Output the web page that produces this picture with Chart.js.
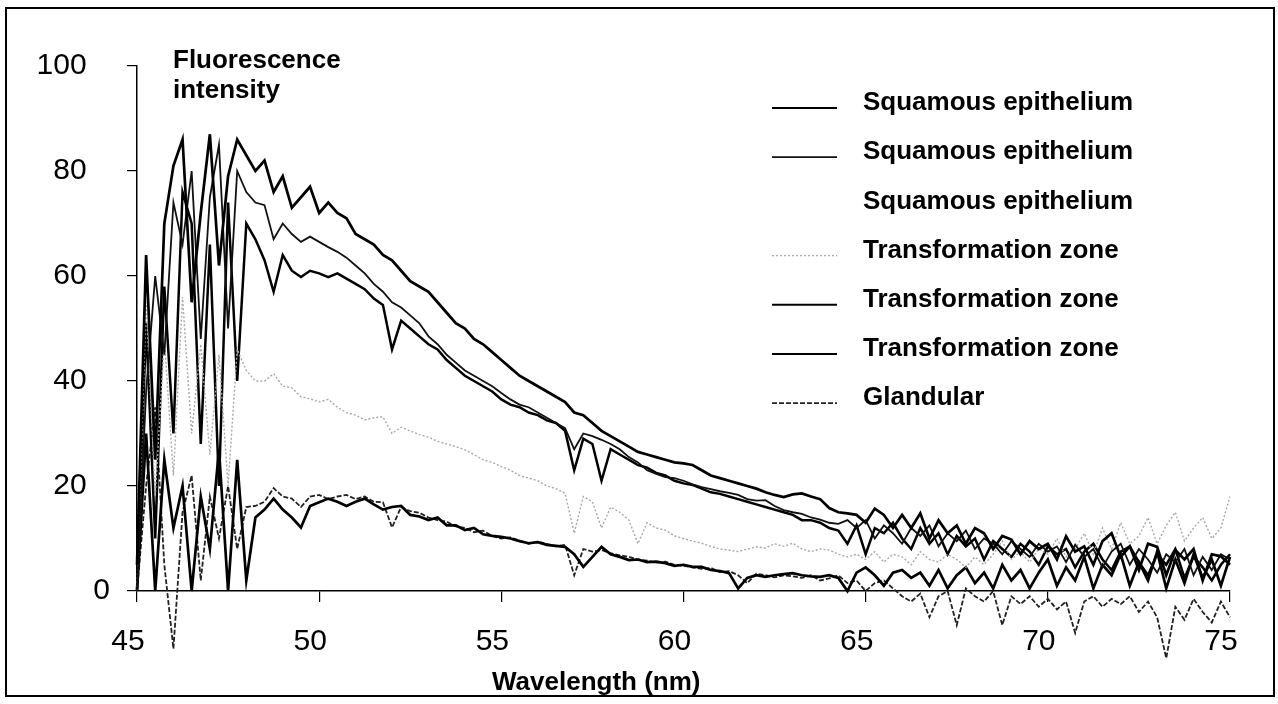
<!DOCTYPE html>
<html>
<head>
<meta charset="utf-8">
<title>Fluorescence intensity</title>
<script src="https://cdn.jsdelivr.net/npm/chart.js@4.4.1/dist/chart.umd.min.js"></script>
<style>
  html, body { margin: 0; padding: 0; background: #fff; }
  #wrap { width: 1278px; height: 704px; }
</style>
</head>
<body>
<div id="wrap"><canvas id="spectrumChart" width="1278" height="704"></canvas></div>
<script>
// wavelength grid (nm), one value every 0.25
const wavelengths = [
  45, 45.25, 45.5, 45.75, 46, 46.25, 46.5, 46.75, 47, 47.25, 47.5, 47.75,
  48, 48.25, 48.5, 48.75, 49, 49.25, 49.5, 49.75, 50, 50.25, 50.5, 50.75,
  51, 51.25, 51.5, 51.75, 52, 52.25, 52.5, 52.75, 53, 53.25, 53.5, 53.75,
  54, 54.25, 54.5, 54.75, 55, 55.25, 55.5, 55.75, 56, 56.25, 56.5, 56.75,
  57, 57.25, 57.5, 57.75, 58, 58.25, 58.5, 58.75, 59, 59.25, 59.5, 59.75,
  60, 60.25, 60.5, 60.75, 61, 61.25, 61.5, 61.75, 62, 62.25, 62.5, 62.75,
  63, 63.25, 63.5, 63.75, 64, 64.25, 64.5, 64.75, 65, 65.25, 65.5, 65.75,
  66, 66.25, 66.5, 66.75, 67, 67.25, 67.5, 67.75, 68, 68.25, 68.5, 68.75,
  69, 69.25, 69.5, 69.75, 70, 70.25, 70.5, 70.75, 71, 71.25, 71.5, 71.75,
  72, 72.25, 72.5, 72.75, 73, 73.25, 73.5, 73.75, 74, 74.25, 74.5, 74.75,
  75
];

// one row per nm (4 readings), last value at 75 nm
const squamous1 = [
  5, 64, 25, 70,   81, 86, 55, 72,   87, 62, 79, 86,   83, 80, 82, 76,
  79, 73, 75, 77,   72, 74, 72, 71,   68, 67, 66, 64,   63, 61, 59, 58,
  57, 55, 53, 51,   50, 48, 47, 45.5,   44, 42.5, 41, 40,   39, 38, 37, 36,
  34, 33.5, 32, 30.5,   29.5, 28.5, 27.5, 26.5,   26, 25.5, 25, 24.5,   24.3, 24, 23, 22,
  21.5, 21, 20.5, 20,   19.5, 18.8, 18.3, 17.9,   18.4, 18.6, 18, 17.5,   15.8, 15, 14.8, 14.5,
  13, 15.7, 14.5, 12,   14.5, 12, 14.8, 10,   13.5, 11, 12.5, 9,   12, 11, 8, 10.5,
  9.8, 7, 9.5, 8,   9, 6, 10.4, 7.5,   8.5, 5, 9.5, 11,   6.5, 8.5, 4, 9,
  8.4, 3, 7.8, 6,   8, 2, 7, 6.6,
  5
];

const squamous2 = [
  0, 38, 60, 45,   74, 66, 80, 48,   75, 85, 50, 80,   76, 74, 73.5, 67,
  70, 68, 66.5, 67.5,   66.5, 65.5, 64.6, 63.5,   62, 60.5, 58.5, 57,   55, 54, 52.5, 51,
  48.5, 47, 45, 43.5,   42, 41, 40, 39,   37.7, 36.5, 35.5, 35,   34, 33, 32, 31,
  27, 30, 29.5, 28.8,   28, 27, 25.5, 24.5,   23, 22.3, 21.7, 21.5,   21, 20.3, 19.8, 19.4,
  19, 18.7, 18.3, 17.5,   17.2, 17.3, 16.2, 15.4,   15, 14.7, 14, 13.6,   13, 12.8, 13.5, 12,
  13.5, 10, 12.5, 11,   9, 12, 10.5, 12.5,   8.5, 11, 9.5, 11.5,   8, 10, 9, 7,
  9.5, 8, 6.5, 9,   7.5, 8.5, 5.5, 8.8,   6.5, 8, 4.5, 7.5,   9, 5, 8, 6,
  3.5, 7, 5.5, 8,   3, 6.5, 4, 7,
  6
];

// third squamous trace is not visible in the figure
const squamous3 = [];

const transformation1 = [
  0, 55, 18, 48,   22, 56, 30, 47,   26, 45, 20, 46,   42, 40, 40, 41.4,
  39, 38.7, 37, 36.6,   36, 36.5, 35, 34,   33.5, 32.6, 33, 33.2,   30, 31.2, 30.5, 29.8,
  29.3, 28.5, 28, 27.5,   26.9, 26, 25, 24.5,   23.7, 23, 22, 21.5,   21, 20, 19.5, 18.6,
  11, 18, 17, 12,   16, 15, 13.5, 9,   13, 12, 11.6, 10.5,   10, 9.5, 9.1, 8.5,
  8, 7.8, 7.5, 8,   8.4, 8.2, 9, 8.5,   9.1, 8, 7.5, 8,   7.8, 7, 6.5, 7,
  6, 7.5, 5.5, 7,   6.5, 5, 7.5, 6,   5.5, 7, 6, 4.5,   6.5, 5, 7, 9.5,
  6, 7.5, 5.5, 8,   7, 10, 6.5, 8,   11, 7, 12, 8,   13, 9, 10.5, 14,
  9, 12.5, 15, 9.5,   12, 14, 10, 12,
  18
];

const transformation2 = [
  0, 51, 10, 58,   30, 76, 70, 28,   66, 20, 74, 40,   70, 67, 63, 57,
  64, 61, 59.8, 61,   60.5, 59.8, 60.5, 59.5,   58.5, 57.5, 55.7, 54.5,   46, 51.5, 50, 48.5,
  47, 46, 44, 42.5,   41, 40, 39, 38,   36.5, 35.5, 35, 34,   33.5, 32.5, 32, 30.5,
  23, 29, 28, 21,   27, 26, 25, 24,   23.5, 22.5, 22, 21,   20.5, 20.2, 19.5, 18.8,
  18.5, 18, 17.5, 17,   16.5, 16, 15.5, 15,   14.5, 13.5, 13.5, 13,   12, 11.5, 9, 12.5,
  7, 12, 11, 13,   10, 8, 12, 9,   11, 7, 10.5, 8.5,   10, 6, 9.5, 8,
  6.5, 9, 7.5, 5,   8.5, 7, 8, 4.5,   7.5, 9, 6, 4,   7.5, 8.5, 5.5, 3,
  7, 5, 8, 2.5,   6.5, 4.5, 2, 5,
  7
];

const transformation3 = [
  0, 30, 0, 25,   12, 20, 0, 18,   8, 27, 0, 25,   2, 14, 15.5, 17.6,
  15.5, 14, 12.1, 16.2,   16.9, 17.6, 17, 16.2,   17, 17.6, 16.5, 15.5,   16, 16.2, 14.5, 14.2,
  13.5, 14, 12.5, 12.5,   11.6, 12, 10.8, 10.5,   10.3, 10, 9.5, 9.1,   9.3, 8.8, 8.6, 8.4,
  7, 4.6, 6.5, 8.4,   7, 6.5, 5.9, 6,   5.5, 5.6, 5.3, 4.8,   5, 4.6, 4.6, 4,
  3.8, 3.4, 0.5, 2.5,   3, 2.7, 3, 3.2,   3.4, 3, 2.8, 2.7,   3, 2.5, 0, 3.5,
  4.5, 3, 1, 3.5,   4, 2.5, 3.5, 1,   4, 0.5, 3, 4.5,   1.5, 3.5, 0.5, 5,
  2, 4, 0.5, 3.5,   6, 1, 4.5, 2,   6.5, 0.5, 5, 3,   7, 1, 5.5, 2,
  7.5, 0.5, 6, 1.5,   7, 2.5, 6, 1,
  6.5
];

const glandular = [
  0, 20, 35, 5,   -11, 15, 22, 2,   18, 10, 20, 8,   16, 16.2, 17, 19.6,
  18, 17.6, 16, 18,   18.3, 17.5, 18, 18.3,   17.5, 18, 17, 16.9,   12.1, 16, 15.2, 14.9,
  14, 13.5, 13.2, 12.3,   12, 11.2, 11.5, 10.5,   10, 10.2, 9.6, 9,   9.4, 9, 8.5, 8.8,
  3, 8, 7.5, 7.8,   7.2, 6.8, 6.5, 6,   5.8, 5.4, 5.6, 5,   4.8, 4.5, 4.2, 4.4,
  3.6, 3.8, 3, 1.5,   3.3, 3, 2.6, 3,   2.8, 2.5, 3, 2,   2.4, 3, 1.5, 2,
  0, 1.5, 2, 0.5,   -1, -2, -0.5, -5,   -1, 0, -6.5, 0.5,   -1, -2, 0, -6.5,
  -1, -2.5, -1, -3,   -1.5, -3.5, -2, -8,   -2, -1, -3, -1.5,   -2.5, -1, -4, -2,
  -5, -12.8, -3, -5.5,   -1.5, -4, -6, -2,
  -5
];

const xTicks = [45, 50, 55, 60, 65, 70, 75];
const yTicks = [0, 20, 40, 60, 80, 100];

const FONT = "'Liberation Sans', Arial, Helvetica, sans-serif";

// pair every reading with its wavelength
function toPoints(values) {
    return values.map((v, i) => ({ x: wavelengths[i], y: v }));
}

const series = [
    { label: 'Squamous epithelium', values: squamous1, color: '#000000', width: 2.7, dash: [] },
    { label: 'Squamous epithelium', values: squamous2, color: '#111111', width: 1.8, dash: [] },
    { label: 'Squamous epithelium', values: squamous3, color: 'rgba(0,0,0,0)', width: 1, dash: [] },
    { label: 'Transformation zone', values: transformation1, color: '#a8a8a8', width: 1.4, dash: [2, 2] },
    { label: 'Transformation zone', values: transformation2, color: '#000000', width: 2.5, dash: [] },
    { label: 'Transformation zone', values: transformation3, color: '#000000', width: 2.7, dash: [] },
    { label: 'Glandular', values: glandular, color: '#222222', width: 1.8, dash: [5, 2] }
];

// white page with the thin frame round the figure
const framePlugin = {
    id: 'frame',
    beforeDraw(chart) {
        const ctx = chart.ctx;
        ctx.save();
        ctx.fillStyle = '#fff';
        ctx.fillRect(0, 0, chart.width, chart.height);
        ctx.strokeStyle = '#000';
        ctx.lineWidth = 2;
        ctx.strokeRect(6, 8, 1268, 688);
        ctx.restore();
    }
};

// axis captions and the legend at the right
const labelsPlugin = {
    id: 'labels',
    afterDraw(chart) {
        const ctx = chart.ctx;
        ctx.save();
        ctx.fillStyle = '#000';
        ctx.textAlign = 'left';
        ctx.textBaseline = 'middle';

        ctx.font = 'bold 26px ' + FONT;
        ctx.fillText('Fluorescence', 173, 61);
        ctx.fillText('intensity', 173, 91);
        ctx.fillText('Wavelength (nm)', 492, 683);

        chart.data.datasets.forEach((ds, i) => {
            const y = 103 + i * 49.2;
            ctx.save();
            ctx.strokeStyle = ds.borderColor;
            ctx.lineWidth = Math.min(ds.borderWidth, 2);
            ctx.setLineDash(ds.borderDash || []);
            ctx.beginPath();
            ctx.moveTo(772, y + 5);
            ctx.lineTo(837, y + 5);
            ctx.stroke();
            ctx.restore();
            ctx.fillText(ds.label, 863, y);
        });
        ctx.restore();
    }
};

const ctx = document.getElementById('spectrumChart').getContext('2d');

new Chart(ctx, {
    type: 'line',
    data: {
        datasets: series.map(s => ({
            label: s.label,
            data: toPoints(s.values),
            borderColor: s.color,
            borderWidth: s.width,
            borderDash: s.dash,
            pointRadius: 0,
            tension: 0,
            fill: false,
            clip: false
        }))
    },
    options: {
        responsive: false,
        animation: false,
        events: [],
        layout: { padding: { top: 66, right: 48, bottom: 0, left: 0 } },
        plugins: {
            legend: { display: false },
            tooltip: { enabled: false }
        },
        scales: {
            x: {
                type: 'linear',
                min: 45,
                max: 75,
                afterBuildTicks: (scale) => { scale.ticks = xTicks.map(v => ({ value: v })); },
                afterFit: (scale) => { scale.height = 113; },
                grid: { drawOnChartArea: false, color: '#000', tickLength: 11, lineWidth: 1.2 },
                border: { color: '#000', width: 1.5 },
                ticks: {
                    color: '#000',
                    font: { family: FONT, size: 30 },
                    padding: 22,
                    labelOffset: -9,
                    maxRotation: 0
                }
            },
            y: {
                min: 0,
                max: 100,
                afterBuildTicks: (scale) => { scale.ticks = yTicks.map(v => ({ value: v })); },
                afterFit: (scale) => { scale.width = 137; },
                grid: { drawOnChartArea: false, color: '#000', tickLength: 10, lineWidth: 1.2 },
                border: { color: '#000', width: 1.5 },
                ticks: {
                    color: '#000',
                    font: { family: FONT, size: 30 },
                    padding: 17,
                    // the zero sits further right than the other labels
                    callback: (v) => v === 0 ? '0' : v + '\u2002 '
                }
            }
        }
    },
    plugins: [framePlugin, labelsPlugin]
});
</script>
</body>
</html>
